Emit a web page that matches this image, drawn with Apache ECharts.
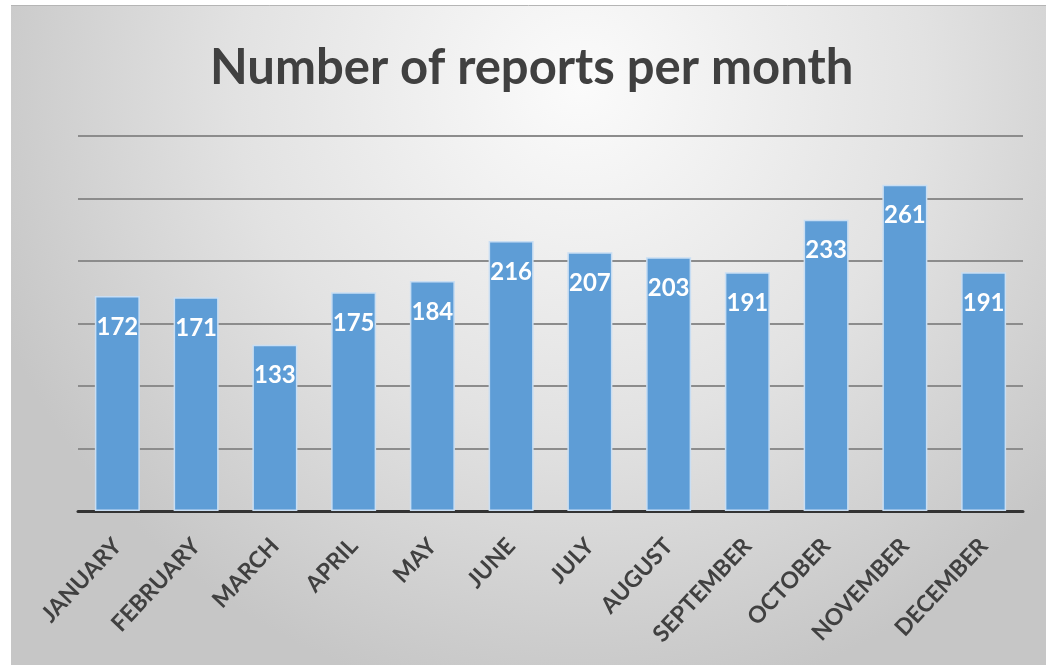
<!DOCTYPE html>
<html>
<head>
<meta charset="utf-8">
<style>
  html, body { margin: 0; padding: 0; background: #fff; }
  #chart { width: 1046px; height: 666px; }
</style>
<script src="https://cdn.jsdelivr.net/npm/echarts@6/dist/echarts.min.js"></script>
</head>
<body>
<div id="chart"></div>
<script>
// data
const months = ['JANUARY', 'FEBRUARY', 'MARCH', 'APRIL', 'MAY', 'JUNE',
  'JULY', 'AUGUST', 'SEPTEMBER', 'OCTOBER', 'NOVEMBER', 'DECEMBER']
const reports = [172, 171, 133, 175, 184, 216, 207, 203, 191, 233, 261, 191]
const yTicks = [0, 50, 100, 150, 200, 250, 300]

const myChart = echarts.init(document.getElementById('chart'))

const option = {
  animation: false,
  title: {
    text: 'Number of reports per month',
    left: 205,
    top: 39,
    textStyle: {
      color: '#404040',
      fontFamily: 'Lato',
      fontSize: 49,
      fontWeight: 'bold'
    }
  },
  // framed background with the soft radial shading
  graphic: [
    {
      type: 'rect',
      z: -100,
      silent: true,
      shape: { x: 11, y: 5, width: 1035, height: 660 },
      style: {
        fill: new echarts.graphic.RadialGradient(0.55, 0.12, 0.95, [
          { offset: 0, color: '#fbfbfb' },
          { offset: 0.55, color: '#e2e2e2' },
          { offset: 1, color: '#c6c6c6' }
        ])
      }
    },
    {
      type: 'line',
      z: -99,
      silent: true,
      shape: { x1: 11, y1: 5.5, x2: 1046, y2: 5.5 },
      style: { stroke: '#b5b5b5', lineWidth: 1 }
    }
  ],
  grid: {
    left: 78,
    right: 23,
    top: 136,
    bottom: 155
  },
  xAxis: {
    type: 'category',
    data: months,
    axisLine: { lineStyle: { color: '#333', width: 3 } },
    axisTick: { show: false },
    axisLabel: {
      rotate: 47,
      margin: 31,
      color: '#404040',
      fontFamily: 'Lato',
      fontSize: 23,
      fontWeight: 'bold'
    }
  },
  yAxis: {
    type: 'value',
    min: yTicks[0],
    max: yTicks[yTicks.length - 1],
    interval: yTicks[1] - yTicks[0],
    axisLine: { show: false },
    axisTick: { show: false },
    axisLabel: { show: false },
    splitLine: { lineStyle: { color: '#8c8c8c', width: 2 } }
  },
  series: [
    {
      type: 'bar',
      data: reports,
      barWidth: 45,
      itemStyle: {
        color: '#5e9dd6',
        borderColor: '#c9def3',
        borderWidth: 1.5
      },
      label: {
        show: true,
        position: 'insideTop',
        distance: 19,
        color: '#fff',
        fontFamily: 'Lato',
        fontSize: 24,
        fontWeight: 'bold'
      }
    }
  ]
}

myChart.setOption(option)
window.addEventListener('resize', () => myChart.resize(), false)
</script>
</body>
</html>
